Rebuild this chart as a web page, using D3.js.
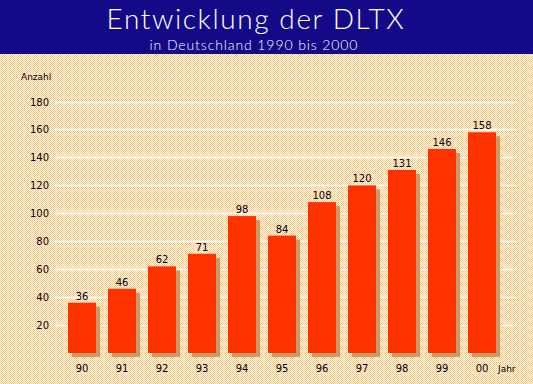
<!DOCTYPE html>
<html>
<head>
<meta charset="utf-8">
<script src="https://cdn.jsdelivr.net/npm/d3@7"></script>
<style>
  body { margin: 0; background: #fff; }
  svg { display: block; }
  text { font-family: "DejaVu Sans", sans-serif; }
</style>
</head>
<body>
<div id="graph"></div>
<script>
var years = ['90', '91', '92', '93', '94', '95', '96', '97', '98', '99', '00']
var values = [36, 46, 62, 71, 98, 84, 108, 120, 131, 146, 158]
var yTicks = [20, 40, 60, 80, 100, 120, 140, 160, 180]

var width = 533, height = 384

var svg = d3.select('#graph').append('svg')
  .attr('width', width)
  .attr('height', height)

// dithered backdrop
var defs = svg.append('defs')
var pat = defs.append('pattern')
  .attr('id', 'dither')
  .attr('width', 2).attr('height', 2)
  .attr('patternUnits', 'userSpaceOnUse')
pat.append('rect').attr('width', 2).attr('height', 2).attr('fill', '#fff')
pat.append('rect').attr('width', 1).attr('height', 1).attr('fill', '#f9c676')
pat.append('rect').attr('x', 1).attr('y', 1).attr('width', 1).attr('height', 1).attr('fill', '#f9c676')

svg.append('rect').attr('width', width).attr('height', height).attr('fill', 'url(#dither)')

// header
svg.append('rect').attr('width', width).attr('height', 54).attr('fill', '#140a88')
svg.append('text')
  .attr('x', 256).attr('y', 29)
  .attr('text-anchor', 'middle')
  .attr('fill', '#fff')
  .style('font-family', 'Lato, "Open Sans", sans-serif')
  .style('font-weight', 300)
  .style('font-size', '28px')
  .style('letter-spacing', '1.6px')
  .text('Entwicklung der DLTX')
svg.append('text')
  .attr('x', 254).attr('y', 50)
  .attr('text-anchor', 'middle')
  .attr('fill', '#fff')
  .style('font-family', 'Lato, "Open Sans", sans-serif')
  .style('font-weight', 300)
  .style('font-size', '14px')
  .style('letter-spacing', '0.9px')
  .text('in Deutschland 1990 bis 2000')

var x = d3.scaleBand().domain(years).range([62, 502]).paddingInner(0.3).paddingOuter(0.15)
var y = d3.scaleLinear().domain([0, 180]).range([353, 101.5])

// gridlines
svg.append('g')
  .selectAll('line').data(yTicks).join('line')
  .attr('x1', 55).attr('x2', 516)
  .attr('y1', d => Math.round(y(d)) + 0.5)
  .attr('y2', d => Math.round(y(d)) + 0.5)
  .attr('stroke', '#fff')
  .attr('stroke-width', 1.5)

svg.append('g')
  .selectAll('text').data(yTicks).join('text')
  .attr('x', 49).attr('y', d => y(d) + 4)
  .attr('text-anchor', 'end')
  .style('font-size', '10px')
  .text(d => d)

svg.append('text').attr('x', 21).attr('y', 80)
  .style('font-size', '9px').text('Anzahl')

// shadows, then bars
var off = 4
svg.append('g')
  .selectAll('rect').data(values).join('rect')
  .attr('x', (d, i) => x(years[i]) + off)
  .attr('y', d => y(d) + off)
  .attr('width', x.bandwidth())
  .attr('height', d => y(0) - y(d))
  .attr('fill', '#cc9966')

svg.append('g')
  .selectAll('rect').data(values).join('rect')
  .attr('x', (d, i) => x(years[i]))
  .attr('y', d => y(d))
  .attr('width', x.bandwidth())
  .attr('height', d => y(0) - y(d))
  .attr('fill', '#ff3300')

svg.append('g')
  .selectAll('text').data(values).join('text')
  .attr('x', (d, i) => x(years[i]) + x.bandwidth() / 2)
  .attr('y', d => y(d) - 3)
  .attr('text-anchor', 'middle')
  .style('font-size', '10px')
  .text(d => d)

svg.append('g')
  .selectAll('text').data(years).join('text')
  .attr('x', d => x(d) + x.bandwidth() / 2)
  .attr('y', 372)
  .attr('text-anchor', 'middle')
  .style('font-size', '10px')
  .text(d => d)

svg.append('text').attr('x', 498).attr('y', 372)
  .style('font-size', '9px').text('Jahr')
</script>
</body>
</html>
